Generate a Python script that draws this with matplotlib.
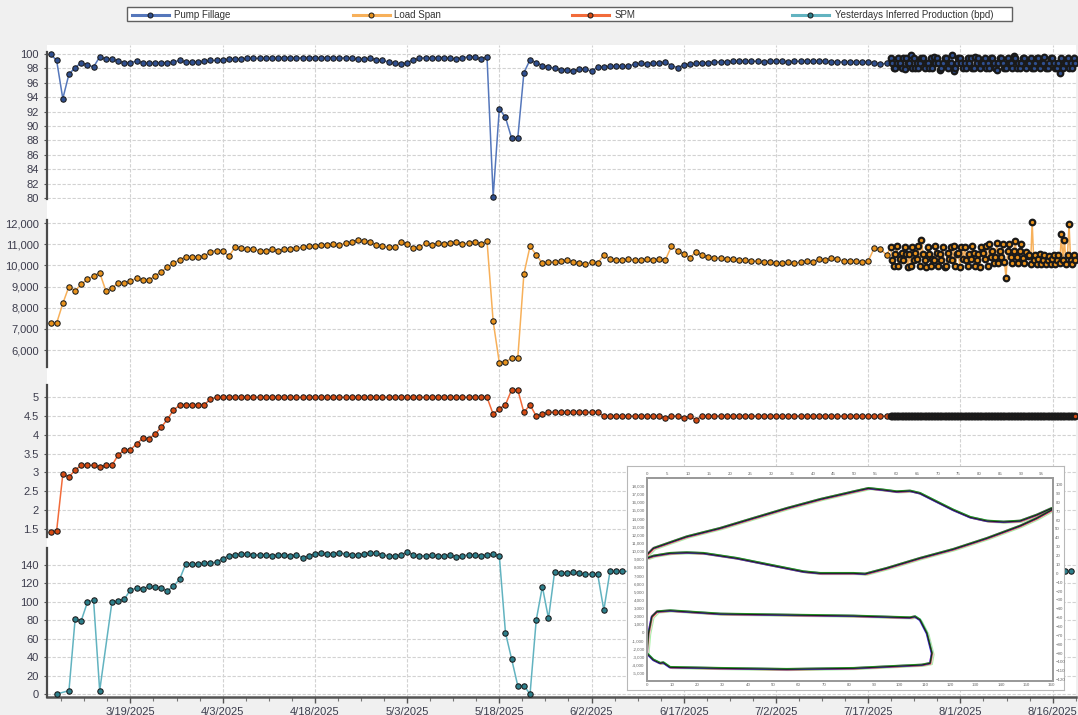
import numpy as np
import pandas as pd
import matplotlib
matplotlib.use("Agg")
import matplotlib.pyplot as plt
import matplotlib.dates as mdates
import matplotlib.transforms as mtransforms
from matplotlib.lines import Line2D
from matplotlib.patches import Rectangle
from matplotlib.ticker import FixedLocator, FuncFormatter

plt.rcParams['font.family'] = ['Liberation Sans', 'DejaVu Sans']

# ---------------------------------------------------------------- data
start_date = "2025-03-06"
series_names = ["Pump Fillage", "Load Span", "SPM", "Yesterdays Inferred Production (bpd)"]

# daily values, day 0 = start_date
pump_fillage = [
    100.0, 99.1, 93.8, 97.2, 98.1, 98.8, 98.5, 98.2, 99.6, 99.3,
    99.3, 99.0, 98.8, 98.8, 99.0, 98.8, 98.7, 98.8, 98.8, 98.8,
    98.9, 99.1, 98.9, 98.9, 98.9, 99.0, 99.1, 99.1, 99.2, 99.3,
    99.3, 99.3, 99.4, 99.4, 99.4, 99.4, 99.4, 99.4, 99.5, 99.5,
    99.4, 99.5, 99.5, 99.5, 99.4, 99.5, 99.5, 99.4, 99.5, 99.4,
    99.3, 99.3, 99.4, 99.2, 99.1, 98.9, 98.7, 98.6, 98.8, 99.2,
    99.4, 99.5, 99.4, 99.5, 99.5, 99.4, 99.3, 99.5, 99.6, 99.6,
    99.3, 99.6, 80.2, 92.4, 91.2, 88.3, 88.3, 97.4, 99.2, 98.8,
    98.4, 98.2, 98.0, 97.8, 97.8, 97.6, 97.9, 97.9, 97.6, 98.2,
    98.2, 98.3, 98.3, 98.3, 98.3, 98.6, 98.7, 98.6, 98.8, 98.7,
    98.9, 98.4, 98.1, 98.5, 98.6, 98.7, 98.8, 98.8, 98.9, 98.9,
    98.9, 99.0, 99.0, 99.0, 99.0, 99.0, 98.9, 99.0, 99.0, 99.0,
    98.9, 99.0, 99.0, 99.0, 99.0, 99.0, 99.0, 98.9, 98.9, 98.9,
    98.9, 98.9, 98.9, 98.9, 98.8, 98.6, 98.7,
]
load_span = [
    7270, 7270, 8200, 9000, 8800, 9100, 9340, 9500, 9650, 8800,
    8920, 9180, 9150, 9270, 9390, 9310, 9310, 9500, 9700, 9900,
    10120, 10250, 10410, 10380, 10410, 10420, 10650, 10700, 10700, 10420,
    10850, 10800, 10750, 10750, 10700, 10700, 10750, 10700, 10750, 10780,
    10800, 10850, 10900, 10900, 10950, 10950, 11000, 10950, 11050, 11100,
    11200, 11150, 11100, 10950, 10900, 10850, 10850, 11100, 11000, 10800,
    10850, 11050, 10950, 11050, 11000, 11050, 11100, 11000, 11050, 11100,
    11000, 11150, 7350, 5400, 5450, 5600, 5600, 9600, 10900, 10500,
    10100, 10150, 10150, 10200, 10250, 10150, 10100, 10050, 10150, 10100,
    10500, 10300, 10250, 10250, 10300, 10250, 10250, 10300, 10250, 10300,
    10250, 10900, 10700, 10550, 10350, 10650, 10500, 10400, 10350, 10350,
    10300, 10300, 10250, 10250, 10200, 10200, 10150, 10150, 10100, 10100,
    10150, 10100, 10150, 10200, 10150, 10300, 10250, 10350, 10300, 10200,
    10200, 10200, 10150, 10200, 10830, 10760, 10490,
]
spm = [
    1.4, 1.45, 2.95, 2.88, 3.06, 3.19, 3.19, 3.19, 3.14, 3.19,
    3.19, 3.46, 3.6, 3.6, 3.76, 3.91, 3.9, 4.02, 4.2, 4.41,
    4.66, 4.79, 4.8, 4.79, 4.8, 4.8, 4.95, 5.0, 5.0, 5.0,
    5.0, 5.0, 5.0, 5.0, 5.0, 5.0, 5.0, 5.0, 5.0, 5.0,
    5.0, 5.0, 5.0, 5.0, 5.0, 5.0, 5.0, 5.0, 5.0, 5.0,
    5.0, 5.0, 5.0, 5.0, 5.0, 5.0, 5.0, 5.0, 5.0, 5.0,
    5.0, 5.0, 5.0, 5.0, 5.0, 5.0, 5.0, 5.0, 5.0, 5.0,
    5.0, 5.0, 4.55, 4.7, 4.8, 5.2, 5.2, 4.6, 4.8, 4.5,
    4.55, 4.6, 4.6, 4.6, 4.6, 4.6, 4.6, 4.6, 4.6, 4.6,
    4.5, 4.5, 4.5, 4.5, 4.5, 4.5, 4.5, 4.5, 4.5, 4.5,
    4.45, 4.5, 4.5, 4.45, 4.5, 4.4, 4.5, 4.5, 4.5, 4.5,
    4.5, 4.5, 4.5, 4.5, 4.5, 4.5, 4.5, 4.5, 4.5, 4.5,
    4.5, 4.5, 4.5, 4.5, 4.5, 4.5, 4.5, 4.5, 4.5, 4.5,
    4.5, 4.5, 4.5, 4.5, 4.5, 4.5, 4.5,
]
# production: day 1 .. day 93 (nan = no reading), then last two days
production_first_day = 1
production = [
    0, np.nan, 3.6, 81, 79.6, 99.5, 102, 3.6, np.nan, 100,
    101, 102.8, 113, 114.7, 114, 117, 116, 114.7, 112, 117,
    124.5, 141, 141, 141, 142, 142, 143, 147, 150, 151,
    152, 152, 151, 151, 151, 150, 151, 151, 150, 151,
    148, 150, 152, 153, 152, 152, 153, 152, 151, 151,
    152, 153, 153, 151, 150, 150, 151, 154, 151, 150,
    150, 151, 150, 150, 151, 149, 150, 151, 151, 150,
    151, 152, 150, 66.5, 38, 9, 9, 0, 80, 116.5,
    82, 132.7, 131, 131, 132.5, 131, 130, 130, 130, 91,
    133, 133, 133,
]
production_tail_days = [165, 166]
production_tail = [133, 133]

# high-frequency readings (4 per day) at the end of the record
dense_start_day = 136.67
dense_end_day = 166.67
pump_dense = [
    99.4, 98.7, 98.0, 98.1, 98.8, 99.5, 98.7, 98.0, 99.4, 97.9, 99.4, 98.7,
    98.7, 99.8, 98.0, 99.4, 98.0, 98.8, 98.1, 98.7, 99.5, 99.4, 98.0, 98.7,
    98.7, 98.0, 99.4, 98.1, 99.6, 98.8, 99.4, 98.7, 97.8, 98.0, 98.7, 99.5,
    99.4, 98.0, 98.8, 98.7, 99.8, 97.7, 98.0, 98.7, 99.4, 99.5, 98.7, 98.0,
    98.8, 98.1, 99.5, 98.7, 99.4, 98.0, 98.0, 99.6, 98.7, 99.4, 98.0, 98.8,
    98.7, 99.4, 98.1, 98.7, 98.0, 99.5, 99.4, 98.8, 98.0, 97.8, 98.7, 99.4,
    99.5, 98.7, 98.0, 98.1, 99.4, 98.8, 98.7, 98.0, 99.7, 99.4, 98.0, 98.7,
    98.1, 98.8, 99.4, 99.5, 98.0, 98.7, 98.7, 99.4, 98.1, 98.0, 98.7, 99.5,
    99.4, 98.0, 98.7, 98.8, 99.6, 98.1, 98.0, 98.8, 99.4, 99.4, 98.7, 98.0,
    98.0, 98.7, 97.4, 99.4, 98.1, 98.8, 98.7, 99.5, 98.0, 98.7, 98.0, 99.4,
    98.7,
]
load_dense = [
    10850, 10250, 9950, 10550, 10900, 9950, 10300, 10600, 10250, 10850, 10550, 9900,
    10550, 9950, 10850, 10250, 10600, 10300, 10900, 9950, 11200, 10550, 10250, 9900,
    10850, 10550, 9950, 10300, 10250, 10900, 10600, 9950, 10550, 10250, 10850, 9900,
    9950, 10600, 10300, 10850, 10250, 10900, 9950, 10550, 10600, 9900, 10850, 10300,
    10850, 10250, 9950, 10550, 10300, 10900, 10600, 9950, 10250, 10550, 9900, 10850,
    10600, 10300, 10900, 9950,
    11000, 10400, 10700, 10100, 10400, 11050, 10100, 10700, 10400, 11000, 10150, 9400,
    10700, 11000, 10400, 10100, 10700, 11150, 10400, 10100, 10700, 11000, 10350, 10100,
    10650, 10450,
    10500, 10050, 12050, 10250, 10500, 10050, 10300, 10550, 10050, 10250, 10500, 10050,
    10250, 10450, 10050, 10300, 10500, 10050, 10250, 10500, 10100, 11480, 10250, 11200,
    10050, 10500, 11950, 10250, 10050, 10500, 10250,
]
spm_dense = [
    4.5, 4.5, 4.5, 4.5, 4.5, 4.5, 4.5, 4.5, 4.5, 4.5, 4.5, 4.5,
    4.5, 4.5, 4.5, 4.5, 4.5, 4.5, 4.5, 4.5, 4.5, 4.5, 4.5, 4.5,
    4.5, 4.5, 4.5, 4.5, 4.5, 4.5, 4.5, 4.5, 4.5, 4.5, 4.5, 4.5,
    4.5, 4.5, 4.5, 4.5, 4.5, 4.5, 4.5, 4.5, 4.5, 4.5, 4.5, 4.5,
    4.5, 4.5, 4.5, 4.5, 4.5, 4.5, 4.5, 4.5, 4.5, 4.5, 4.5, 4.5,
    4.5, 4.5, 4.5, 4.5, 4.5, 4.5, 4.5, 4.5, 4.5, 4.5, 4.5, 4.5,
    4.5, 4.5, 4.5, 4.5, 4.5, 4.5, 4.5, 4.5, 4.5, 4.5, 4.5, 4.5,
    4.5, 4.5, 4.5, 4.5, 4.5, 4.5, 4.5, 4.5, 4.5, 4.5, 4.5, 4.5,
    4.5, 4.5, 4.5, 4.5, 4.5, 4.5, 4.5, 4.5, 4.5, 4.5, 4.5, 4.5,
    4.5, 4.5, 4.5, 4.5, 4.5, 4.5, 4.5, 4.5, 4.5, 4.5, 4.5, 4.5,
    4.5,
]

tick_labels = ["3/19/2025", "4/3/2025", "4/18/2025", "5/3/2025", "5/18/2025", "6/2/2025",
               "6/17/2025", "7/2/2025", "7/17/2025", "8/1/2025", "8/16/2025"]

pump_ticks = [80, 82, 84, 86, 88, 90, 92, 94, 96, 98, 100]
load_ticks = [6000, 7000, 8000, 9000, 10000, 11000, 12000]
spm_ticks = [1.5, 2, 2.5, 3, 3.5, 4, 4.5, 5]
prod_ticks = [0, 20, 40, 60, 80, 100, 120, 140]

# inset dynamometer card: surface card (top axis position, left axis load)
surf_pos = [0, 1.6, 9.6, 17.6, 25.6, 33.7, 41.7, 49.7, 53.3, 56.9, 60.1, 63.3, 65.7, 69.7,
            73.7, 77.8, 81.8, 85.8, 89.8, 93.8, 97.4, 97.4, 93.8, 89.8, 81.8, 73.7, 65.7,
            57.7, 52.5, 49.7, 41.7, 37.7, 29.6, 21.6, 13.6, 9.6, 5.6, 1.6, 0, 0]
surf_load = [9523, 10343, 11770, 12800, 14030, 15260, 16360, 17300, 17710, 17510, 17300,
             17390, 17100, 16070, 15050, 14150, 13700, 13580, 13700, 14440, 15260, 15050,
             14030, 13090, 11570, 10220, 9120, 7890, 7190, 7270, 7270, 7470, 8295, 9118,
             9732, 9810, 9732, 9400, 9118, 9523]
# downhole card (bottom axis position, left axis load)
dh_pos = [0, 0.7, 2, 4, 9.2, 29, 55.3, 81.7, 104, 106, 108, 110.7, 112.7, 112, 108.7,
          81.7, 55.3, 29, 9.2, 6.5, 5.3, 2.6, 0]
dh_load = [-2553, -96, 1943, 2558, 2680, 2275, 2150, 2030, 1820, 1950, 1540, -96, -2550,
           -3780, -3990, -4400, -4520, -4400, -4280, -3700, -3780, -3370, -2553]
card_colors = ["#aaf0aa", "#ffb0c0", "#60e0e0", "#e050e0", "#e04040", "#4040e0", "#20a020", "#202020"]

inset_top_ticks = list(range(0, 100, 5))
inset_bottom_ticks = list(range(0, 170, 10))
inset_left_ticks = list(range(-5000, 19000, 1000))
inset_right_ticks = list(range(-120, 110, 10))

# ---------------------------------------------------------------- layout helpers
W, H = 1078, 715
fig = plt.figure(figsize=(W / 100, H / 100), dpi=100, facecolor="#f0f0f0")


def rect(x0, y0, x1, y1):
    return [x0 / W, 1 - y1 / H, (x1 - x0) / W, (y1 - y0) / H]


start = pd.Timestamp(start_date)
d0 = mdates.date2num(start)


def daynum(days):
    return d0 + np.asarray(days, dtype=float)


xlim = (daynum(-0.57), daynum(166.8))
major = [mdates.date2num(pd.to_datetime(t, format="%m/%d/%Y")) for t in tick_labels]

TXT = "#3c3c4c"
GRID = dict(color="#d2d2d2", lw=0.8, ls=(0, (3, 1.5)))
EDGE = "#1a1a1a"

# background plot area with vertical grid and the date axis
bg = fig.add_axes(rect(47, 45, 1076, 697), zorder=0)
bg.set_facecolor("white")
bg.set_xlim(*xlim)
bg.set_ylim(0, 1)
bg.xaxis.set_major_locator(FixedLocator(major))
bg.set_xticklabels(tick_labels)
minor = np.arange(major[0] - 15, xlim[1], 15 / 4)
bg.xaxis.set_minor_locator(FixedLocator(minor))
bg.tick_params(axis="x", which="major", length=4, width=1, color="#555555", labelsize=8, labelcolor=TXT, pad=3)
bg.tick_params(axis="x", which="minor", length=3, width=0.8, color="#777777")
bg.set_yticks([])
for s in ["top", "right", "left"]:
    bg.spines[s].set_visible(False)
bg.spines["bottom"].set_color("#555555")
bg.spines["bottom"].set_linewidth(1.8)
bg.grid(axis="x", which="major", **GRID)
bg.set_axisbelow(True)

# panels: (pixel top, pixel bottom, ylim, ticks, formatter)
panels = [
    (51.5, 198.7, (79.9, 100.35), pump_ticks, lambda v, p: f"{v:g}"),
    (220, 366.7, (5212, 12142), load_ticks, lambda v, p: f"{int(v):,}"),
    (385, 536.7, (1.287, 5.328), spm_ticks, lambda v, p: f"{v:g}"),
    (548, 697, (-3.26, 158.4), prod_ticks, lambda v, p: f"{v:g}"),
]
axes = []
for k, (pt, pb, yl, ticks, fmt) in enumerate(panels):
    ax = fig.add_axes(rect(47, pt, 1076, pb), zorder=1 + k)
    ax.patch.set_alpha(0)
    ax.set_xlim(*xlim)
    ax.set_ylim(*yl)
    ax.yaxis.set_major_locator(FixedLocator(ticks))
    ax.yaxis.set_major_formatter(FuncFormatter(fmt))
    ax.tick_params(axis="y", length=2, width=0.8, color="#555555", labelsize=8, labelcolor=TXT, pad=4)
    ax.tick_params(axis="x", bottom=False, labelbottom=False)
    for s in ["top", "right", "bottom"]:
        ax.spines[s].set_visible(False)
    ax.spines["left"].set_color("#4a4a4a")
    ax.spines["left"].set_linewidth(1.6)
    ax.grid(axis="y", **GRID)
    ax.set_axisbelow(True)
    axes.append(ax)

styles = [
    dict(line="#5577bb", face="#2f4f8f"),
    dict(line="#f7b05a", face="#e8921c"),
    dict(line="#f26b3a", face="#d64a12"),
    dict(line="#62b3c0", face="#2d7f8b"),
]
MS = 3.9


def draw(ax, daily, dense, st):
    xd = daynum(np.arange(len(daily)))
    xh = daynum(np.linspace(dense_start_day, dense_end_day, len(dense)))
    xa = np.concatenate([xd, xh])
    ya = np.concatenate([np.asarray(daily, float), np.asarray(dense, float)])
    ax.plot(xa, ya, color=st["line"], lw=1.1, zorder=2, clip_on=False)
    ax.plot(xd, daily, ls="none", marker="o", ms=MS, mfc=st["face"], mec=EDGE, mew=0.75, zorder=3, clip_on=False)
    ax.plot(xh, dense, ls="none", marker="o", ms=4.0, mfc=st["face"], mec=EDGE, mew=1.6, zorder=3, clip_on=False)


draw(axes[0], pump_fillage, pump_dense, styles[0])
draw(axes[1], load_span, load_dense, styles[1])
draw(axes[2], spm, spm_dense, styles[2])

prod_days = np.concatenate([production_first_day + np.arange(len(production)), production_tail_days])
prod_vals = np.concatenate([np.asarray(production, float), np.asarray(production_tail, float)])
ok = ~np.isnan(prod_vals)
axes[3].plot(daynum(prod_days[ok]), prod_vals[ok], color=styles[3]["line"], lw=1.1, zorder=2, clip_on=False,
             marker="o", ms=MS, mfc=styles[3]["face"], mec=EDGE, mew=0.75)

# ---------------------------------------------------------------- legend
lg = Rectangle((127 / W, 1 - 21 / H), (1012 - 127) / W, 14 / H, transform=fig.transFigure,
               facecolor="white", edgecolor="#606060", lw=1.0, zorder=20)
fig.add_artist(lg)
yc = 1 - 14.5 / H
leg_pos = [(131.5, 168.8, 174.5), (352.5, 389.8, 394.4), (571.8, 609.0, 614.9), (791.6, 829.0, 834.7)]
for (x0, x1, xt), name, st in zip(leg_pos, series_names, styles):
    fig.add_artist(Line2D([x0 / W, x1 / W], [yc, yc], transform=fig.transFigure, color=st["line"], lw=2.2, zorder=21))
    fig.add_artist(Line2D([(x0 + x1) / 2 / W], [yc], transform=fig.transFigure, marker="o", ms=3.6, ls="none",
                          mfc=st["face"], mec=EDGE, mew=0.7, zorder=22))
    fig.text(xt / W, yc, name, fontsize=7, color="#333333", va="center", ha="left", zorder=22)

# ---------------------------------------------------------------- inset card
ib = fig.add_axes(rect(627, 466, 1064, 690), zorder=30)
ib.set_facecolor("white")
ib.set_xticks([])
ib.set_yticks([])
for s in ib.spines.values():
    s.set_color("#b8b8b8")
    s.set_linewidth(0.8)

ia = fig.add_axes(rect(646.7, 478.3, 1053.3, 680.7), zorder=31)
ia.set_facecolor("white")
ia.set_xlim(0, 160.7)
ia.set_ylim(-5919, 18946)
it = ia.twiny()
it.set_xlim(0, 97.8)
ir = ia.twinx()
ir.set_ylim(-121.2, 107.2)
for a in (ia, it, ir):
    for s in a.spines.values():
        s.set_color("#9a9a9a")
        s.set_linewidth(1.2)
ia.xaxis.set_major_locator(FixedLocator(inset_bottom_ticks))
ia.yaxis.set_major_locator(FixedLocator(inset_left_ticks))
it.xaxis.set_major_locator(FixedLocator(inset_top_ticks))
ir.yaxis.set_major_locator(FixedLocator(inset_right_ticks))
ia.yaxis.set_major_formatter(FuncFormatter(lambda v, p: f"{int(v):,}"))
for a in (ia, it, ir):
    a.tick_params(length=0, labelsize=3.2, labelcolor="#666666", pad=1.5)

offsets = [(1.6, -0.9), (0.9, -0.3), (0.5, 0.4), (-0.3, 0.5), (0.3, -0.5), (-0.4, -0.3), (0.2, 0.6), (0, 0)]
for col, (dx, dy) in zip(card_colors, offsets):
    tr_top = mtransforms.offset_copy(it.transData, fig=fig, x=dx, y=dy, units="points")
    tr_bot = mtransforms.offset_copy(ia.transData, fig=fig, x=dx, y=dy, units="points")
    it.plot(surf_pos, surf_load, color=col, lw=0.8, transform=tr_top)
    ia.plot(dh_pos, dh_load, color=col, lw=0.8, transform=tr_bot)

fig.savefig("out.png", dpi=100, facecolor=fig.get_facecolor())
